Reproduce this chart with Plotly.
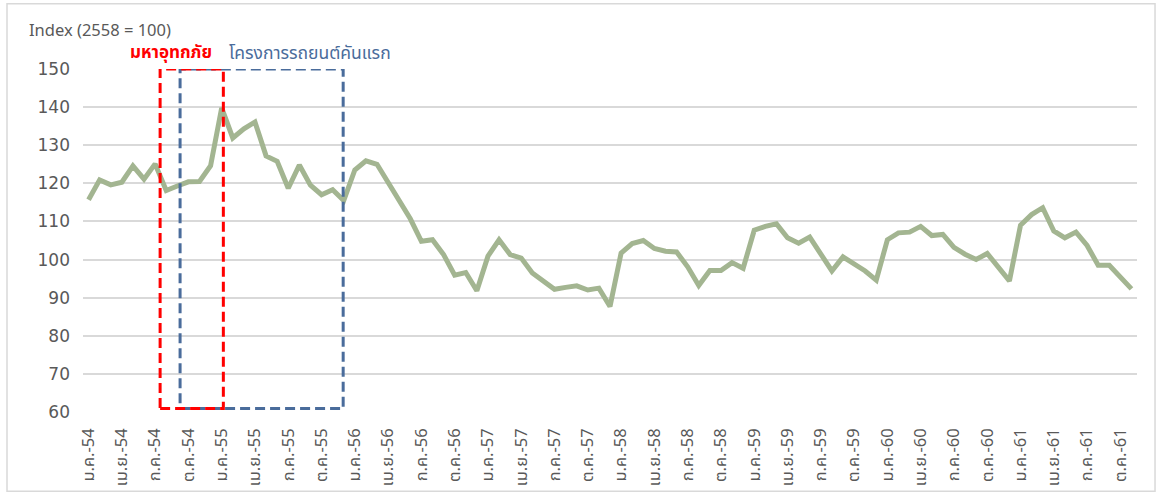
import plotly.graph_objects as go

# ---- data ----
index_values = [
    115.7, 120.9, 119.6, 120.3, 124.6, 121.1, 125.1, 118.1, 119.3, 120.4, 120.5, 124.6,
    139.8, 131.9, 134.3, 136.1, 127.2, 125.8, 118.7, 124.8, 119.5, 117.0, 118.3, 115.5,
    123.5, 125.9, 125.0, 120.3, 115.5, 110.7, 104.8, 105.2, 101.3, 95.9, 96.6, 91.8,
    100.9, 105.2, 101.3, 100.4, 96.5, 94.2, 92.2, 92.7, 93.1, 92.0, 92.5, 87.7,
    101.7, 104.2, 105.0, 102.9, 102.2, 102.0, 98.1, 93.2, 97.1, 97.1, 99.2, 97.7,
    107.7, 108.7, 109.4, 105.7, 104.3, 105.9, 101.6, 97.0, 100.7, 99.0, 97.0, 94.6,
    105.2, 107.0, 107.2, 108.7, 106.3, 106.6, 103.2, 101.4, 100.0, 101.6, 98.1, 94.4,
    109.0, 111.8, 113.6, 107.5, 105.7, 107.2, 103.7, 98.5, 98.5, 95.5, 92.3,
]
quarter_months = ["ม.ค.", "เม.ย.", "ก.ค.", "ต.ค."]
years = ["54", "55", "56", "57", "58", "59", "60", "61"]
tick_labels = [f"{m}-{y}" for y in years for m in quarter_months]
month_index = list(range(len(index_values)))
tick_positions = month_index[::3][:len(tick_labels)]

# highlighted periods (in month-index units)
flood_period = (6.45, 12.15)
first_car_period = (8.25, 22.95)
box_bottom, box_top = 60.9, 150

FONT = "Tahoma, 'Noto Sans Thai', 'Noto Sans', 'DejaVu Sans', sans-serif"
NUM_FONT = "'DejaVu Sans', 'Noto Sans', sans-serif"
GRAY = "#595959"
RED = "#ff0000"
BLUE = "#4a6c9b"

fig = go.Figure()
fig.add_trace(go.Scatter(
    x=month_index, y=index_values, mode="lines",
    line=dict(color="#a3b591", width=5, shape="linear"),
    hoverinfo="x+y", showlegend=False,
))

shapes = []
for (x0, x1), col in [(first_car_period, BLUE), (flood_period, RED)]:
    shapes.append(dict(type="rect", xref="x", yref="y", x0=x0, x1=x1,
                       y0=box_bottom, y1=box_top,
                       line=dict(color=col, width=3, dash="10px,5px"),
                       fillcolor="rgba(0,0,0,0)", layer="above"))
# outer chart border
shapes.append(dict(type="rect", xref="paper", yref="paper",
                   x0=-0.0721, x1=1.0171, y0=-0.2311, y1=1.1904,
                   line=dict(color="#d9d9d9", width=1.5), layer="below"))

annotations = [
    dict(text="Index (2558 = 100)", xref="paper", yref="paper", x=-0.0531, y=1.112,
         xanchor="left", yanchor="middle", showarrow=False,
         font=dict(family=FONT, size=16.5, color=GRAY)),
    dict(text="<b>มหาอุทกภัย</b>", xref="paper", yref="paper", x=0.0427, y=1.046,
         xanchor="left", yanchor="middle", showarrow=False,
         font=dict(family=FONT, size=17, color=RED)),
    dict(text="โครงการรถยนต์คันแรก", xref="paper", yref="paper", x=0.1366, y=1.046,
         xanchor="left", yanchor="middle", showarrow=False,
         font=dict(family=FONT, size=17.5, color=BLUE)),
]

fig.update_layout(
    width=1162, height=495,
    margin=dict(l=83, r=25, t=68.5, b=82.5),
    paper_bgcolor="white", plot_bgcolor="white",
    font=dict(family=FONT, color=GRAY),
    shapes=shapes, annotations=annotations,
    xaxis=dict(
        range=[-0.5, len(index_values) - 0.5], automargin=False,
        tickmode="array", tickvals=tick_positions, ticktext=tick_labels,
        tickangle=-90, showgrid=False, zeroline=False, showline=False,
        ticks="", ticklabelstandoff=12,
        tickfont=dict(family=FONT, size=16.5, color=GRAY),
    ),
    yaxis=dict(
        range=[60, 150], dtick=10, tick0=60, automargin=False,
        showgrid=True, gridcolor="#d9d9d9", gridwidth=1.5,
        zeroline=False, showline=False, ticks="", ticklabelstandoff=12,
        tickfont=dict(family=NUM_FONT, size=17, color=GRAY),
    ),
)

fig.write_html("out.html")
